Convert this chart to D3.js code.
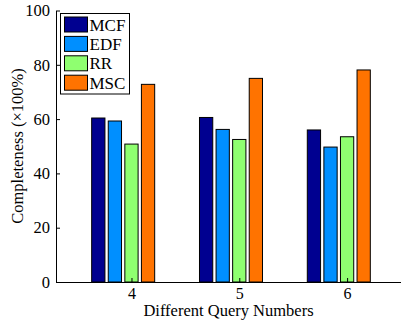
<!DOCTYPE html>
<html>
<head>
<meta charset="utf-8">
<script src="https://cdn.jsdelivr.net/npm/d3@7"></script>
<style>
  body { margin: 0; background: #fff; }
  text { font-family: "Liberation Serif", "Times New Roman", serif; fill: #000; }
</style>
</head>
<body>
<svg id="chart" width="401" height="324"></svg>
<script>
var groups = [4, 5, 6];
var seriesNames = ['MCF', 'EDF', 'RR', 'MSC', ''];
var seriesColors = ['#000090', '#008fff', '#8fff70', '#ff7300', '#800000'];
var mcf = [60.4, 60.6, 56.0];
var edf = [59.3, 56.2, 49.7];
var rr  = [50.8, 52.5, 53.5];
var msc = [72.8, 75.0, 78.1];
var extra = [0, 0, 0];   // fifth series, sits on the baseline
var yTicks = [0, 20, 40, 60, 80, 100];

var values = [mcf, edf, rr, msc, extra];

var svg = d3.select('#chart');

var x = d3.scaleLinear().domain([3.3, 6.5]).range([56, 401]);
var y = d3.scaleLinear().domain([0, 100]).range([282, 10.5]);

// grouped bar layout (matlab style): 5 bars in 0.77 of a unit
var step = 0.1538;
var barW = step * 0.8;

var bars = svg.append('g');
values.forEach(function (vals, s) {
    bars.selectAll('rect.s' + s)
        .data(vals)
        .enter().append('rect')
        .attr('class', 's' + s)
        .attr('x', function (d, i) { return x(groups[i] + (s - 2) * step - barW / 2); })
        .attr('width', function () { return x(3.3 + barW) - x(3.3); })
        .attr('y', function (d) { return y(d); })
        .attr('height', function (d) { return y(0) - y(d); })
        .attr('fill', seriesColors[s])
        .attr('stroke', '#000')
        .attr('stroke-width', 1);
});

// axes, ticks pointing inward
var yAxis = d3.axisLeft(y).tickValues(yTicks).tickSizeInner(-4).tickSizeOuter(0).tickPadding(6);
var gy = svg.append('g').attr('transform', 'translate(56,0)').call(yAxis);
gy.selectAll('text').style('font-size', '16.5px').style('font-family', '"Liberation Serif", serif');

var xAxis = d3.axisBottom(x).tickValues(groups).tickFormat(d3.format('d'))
    .tickSizeInner(-4).tickSizeOuter(0).tickPadding(6);
var gx = svg.append('g').attr('transform', 'translate(0,282)').call(xAxis);
gx.selectAll('text').style('font-size', '16px').style('font-family', '"Liberation Serif", serif');

svg.selectAll('.domain, .tick line').attr('stroke', '#000');

svg.append('text')
    .attr('x', 228.5).attr('y', 316)
    .attr('text-anchor', 'middle')
    .style('font-size', '16.5px')
    .text('Different Query Numbers');

svg.append('text')
    .attr('transform', 'translate(23,146) rotate(-90)')
    .attr('text-anchor', 'middle')
    .style('font-size', '16.5px')
    .text('Completeness (\u00d7100%)');

// legend
var legend = svg.append('g').attr('transform', 'translate(60.5,13.5)');
legend.append('rect')
    .attr('width', 69).attr('height', 80.5)
    .attr('fill', '#fff').attr('stroke', '#000').attr('stroke-width', 1);
seriesNames.slice(0, 4).forEach(function (name, i) {
    legend.append('rect')
        .attr('x', 4).attr('y', 3.5 + i * 19.4)
        .attr('width', 23).attr('height', 15)
        .attr('fill', seriesColors[i]).attr('stroke', '#000');
    legend.append('text')
        .attr('x', 29).attr('y', 17 + i * 19.4)
        .style('font-size', '17px')
        .text(name);
});
</script>
</body>
</html>
